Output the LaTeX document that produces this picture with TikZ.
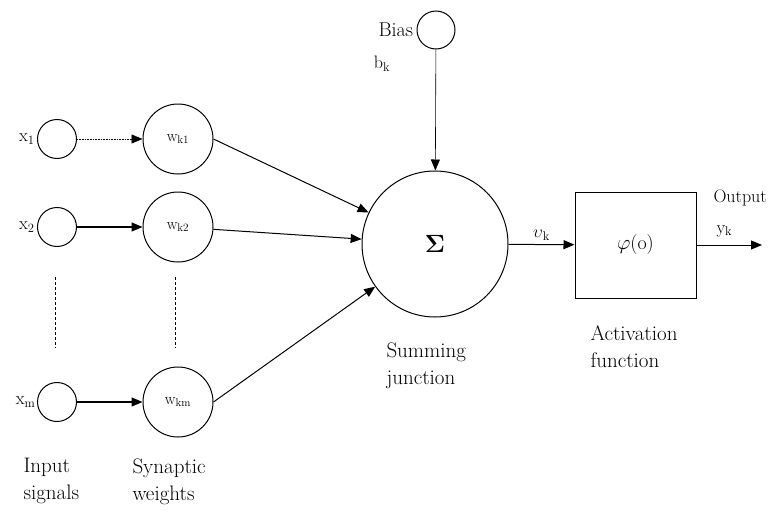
\documentclass[tikz,border=0pt]{standalone}
\usetikzlibrary{arrows.meta}

\tikzset{
	neuron/.style={draw, circle, inner sep=0pt},
	capt/.style={anchor=north west, align=left, inner sep=0pt, font=\fontsize{21}{27}\selectfont},
}

\begin{document}
\begin{tikzpicture}[x=1pt, y=-1pt, line width=1pt, >={Triangle[length=11pt,width=9pt]}]
\useasboundingbox (0,0) rectangle (782,514);

% inputs and weights
\node[neuron, minimum size=39pt] (x1) at (57,139) {};
\node[neuron, minimum size=39pt] (x2) at (57,227) {};
\node[neuron, minimum size=39pt] (xm) at (57,402) {};

\node[neuron, minimum size=70pt, font=\fontsize{16}{16}\selectfont] (w1) at (178,139) {w\textsubscript{k1}};
\node[neuron, minimum size=70pt, font=\fontsize{16}{16}\selectfont] (w2) at (178,227) {w\textsubscript{k2}};
\node[neuron, minimum size=70pt, font=\fontsize{16}{16}\selectfont] (wm) at (178,402) {w\textsubscript{km}};

\node[anchor=east, inner sep=2pt, font=\fontsize{18}{18}\selectfont] (x1lbl) at (x1.west) {x\textsubscript{1}};
\node[anchor=east, inner sep=2pt, font=\fontsize{18}{18}\selectfont] (x2lbl) at (x2.west) {x\textsubscript{2}};
\node[anchor=east, inner sep=1pt, font=\fontsize{18}{18}\selectfont] (xmlbl) at (xm.west) {x\textsubscript{m}};

\draw[->, line width=0.6pt, densely dotted] (x1) -- (w1);
\draw[->, line width=1.4pt] (x2) -- (w2);
\draw[->, line width=1.4pt] (xm) -- (wm);

\draw[densely dashed, line width=0.8pt] (55,277) -- (55,348);
\draw[densely dashed, line width=0.8pt] (175,277) -- (175,348);

% summing junction and bias
\node[neuron, minimum size=146pt, font=\fontsize{26}{26}\selectfont] (sum) at (435,244) {$\mathbf{\Sigma}$};
\node[neuron, minimum size=38pt] (bias) at (436,30) {};
\node[anchor=east, inner sep=3pt, font=\fontsize{20}{20}\selectfont] (biaslbl) at (bias.west) {Bias};
\node[font=\fontsize{18}{18}\selectfont] (bk) at (382,64) {b\textsubscript{k}};

\draw[->] (w1.east) -- (sum);
\draw[->] (w2) -- (sum);
\draw[->] (wm.east) -- (sum);
\draw[->, line width=0.6pt] (bias) -- (sum);

% activation
\node[draw, minimum width=121pt, minimum height=106pt, font=\fontsize{20}{20}\selectfont] (act) at (635.5,245) {$\varphi$(o)};
\coordinate (out) at (762,245);
\draw[->] (sum) -- node[above, font=\fontsize{18}{18}\selectfont] (vk) {$\upsilon$\textsubscript{k}} (act);
\draw[->] (act) -- (out);
\node[anchor=west, inner sep=0pt, font=\fontsize{18}{18}\selectfont] (outlbl) at (713,198) {Output};
\node[anchor=west, inner sep=0pt, font=\fontsize{18}{18}\selectfont] (yk) at (716,231) {y\textsubscript{k}};

% captions
\node[capt] (inlbl) at (23,458) {Input\\signals};
\node[capt] (synlbl) at (132,458) {Synaptic\\weights};
\node[capt] (sumlbl) at (386,342) {Summing\\junction};
\node[capt] (actlbl) at (590,325) {Activation\\function};

\end{tikzpicture}
\end{document}
